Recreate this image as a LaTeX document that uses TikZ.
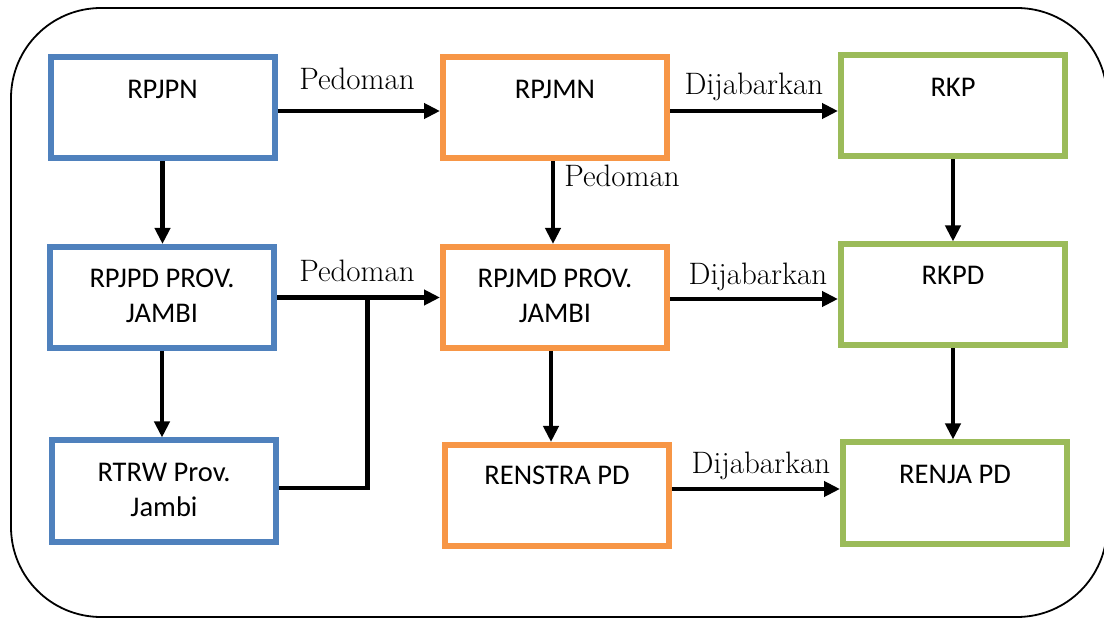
\documentclass[tikz,border=0pt]{standalone}
\usepackage{fontspec}
\setsansfont{Carlito}
\usetikzlibrary{arrows.meta,calc}
\definecolor{bblue}{HTML}{4F81BD}
\definecolor{borange}{HTML}{F79646}
\definecolor{bgreen}{HTML}{9BBB59}
\tikzset{
  boxbase/.style={draw, line width=6pt, fill=white, minimum width=224pt, minimum height=101pt, inner sep=0pt},
  bluebox/.style={boxbase, draw=bblue},
  orangebox/.style={boxbase, draw=borange},
  greenbox/.style={boxbase, draw=bgreen},
  boxtext/.style={anchor=base, align=center, inner sep=0pt, font=\sffamily\fontsize{28.5}{35}\selectfont},
  lbltext/.style={anchor=base, inner sep=0pt, font=\fontsize{31}{36}\selectfont},
  arr/.style={line width=4.5pt, -{Triangle[length=16pt,width=15pt]}},
  plainline/.style={line width=4.5pt}
}
\begin{document}
\begin{tikzpicture}[x=1pt,y=-1pt]
\useasboundingbox (0,0) rectangle (1104,620);
\clip (0,0) rectangle (1104,620);
\draw[line width=1.8pt, rounded corners=90pt] (11,8) rectangle (1107,617);

% boxes
\node[bluebox]   (rpjpn)   at (162.5,108)   {};
\node[orangebox] (rpjmn)   at (555,108)     {};
\node[greenbox]  (rkp)     at (953,106)     {};
\node[bluebox]   (rpjpd)   at (162,297.5)   {};
\node[orangebox] (rpjmd)   at (555,297.5)   {};
\node[greenbox]  (rkpd)    at (953,295)     {};
\node[bluebox]   (rtrw)    at (164,491)     {};
\node[orangebox] (renstra) at (557,495.5)   {};
\node[greenbox]  (renja)   at (955,493)     {};

% box texts (base of a two-line node is its last baseline)
\node[boxtext] (t-rpjpn)   at ([yshift=-44pt]rpjpn.north)   {RPJPN};
\node[boxtext] (t-rpjmn)   at ([yshift=-44pt]rpjmn.north)   {RPJMN};
\node[boxtext] (t-rkp)     at ([yshift=-44pt]rkp.north)     {RKP};
\node[boxtext] (t-rpjpd)   at ([yshift=-79pt]rpjpd.north)   {RPJPD PROV.\\JAMBI};
\node[boxtext] (t-rpjmd)   at ([yshift=-79pt]rpjmd.north)   {RPJMD PROV.\\JAMBI};
\node[boxtext] (t-rkpd)    at ([yshift=-43pt]rkpd.north)    {RKPD};
\node[boxtext] (t-rtrw)    at ([yshift=-79pt]rtrw.north)    {RTRW Prov.\\Jambi};
\node[boxtext] (t-renstra) at ([yshift=-43pt]renstra.north) {RENSTRA PD};
\node[boxtext] (t-renja)   at ([yshift=-44pt]renja.north)   {RENJA PD};

% horizontal arrows
\draw[arr] ([yshift=-3pt]rpjpn.east) -- ([yshift=-3pt]rpjmn.west);
\draw[arr] ([yshift=-3pt]rpjmn.east) -- ([yshift=-5pt]rkp.west);
\draw[arr] (rpjpd.east) -- (rpjmd.west);
\draw[arr] ([yshift=-1.5pt]rpjmd.east) -- ([yshift=-4pt]rkpd.west);
\draw[arr] ([yshift=6.5pt]renstra.east) -- ([yshift=4pt]renja.west);

% vertical arrows
\draw[arr] (rpjpn.south) -- (rpjpn.south |- rpjpd.north);
\draw[arr] ([xshift=-2pt]rpjmn.south) -- ([xshift=-2pt]rpjmn.south |- rpjmd.north);
\draw[arr] (rkp.south) -- (rkp.south |- rkpd.north);
\draw[arr] (rpjpd.south) -- (rpjpd.south |- rtrw.north);
\draw[arr] ([xshift=-4pt]rpjmd.south) -- ([xshift=-4pt]rpjmd.south |- renstra.north);
\draw[arr] (rkpd.south) -- (rkpd.south |- renja.north);

% RTRW joins the Pedoman arrow
\coordinate (j) at ($(rpjpd.east)!0.555!(rpjmd.west)$);
\draw[plainline] ([yshift=3pt]rtrw.east) -| (j);

% labels
\node[lbltext] (l1) at (357,90)  {Pedoman};
\node[lbltext] (l2) at (754,95)  {Dijabarkan};
\node[lbltext] (l3) at (622,187) {Pedoman};
\node[lbltext] (l4) at (357,282) {Pedoman};
\node[lbltext] (l5) at (758,285) {Dijabarkan};
\node[lbltext] (l6) at (761,473) {Dijabarkan};
\end{tikzpicture}
\end{document}
